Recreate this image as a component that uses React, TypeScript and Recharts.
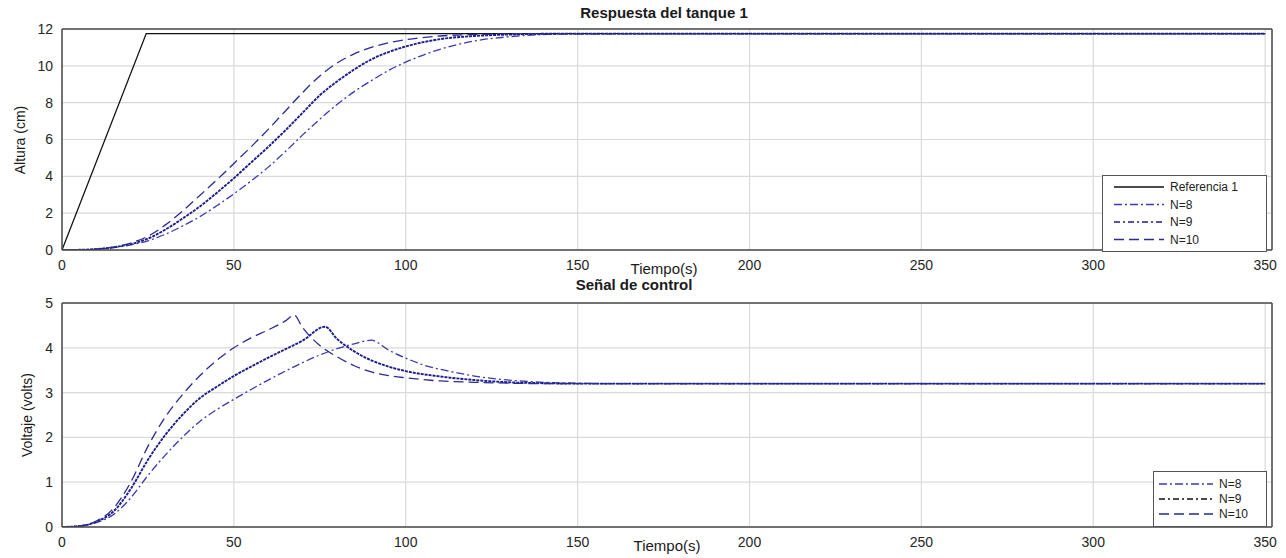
import { LineChart, Line, XAxis, YAxis, CartesianGrid, ReferenceLine } from 'recharts';

// axis ticks
const timeTicks = [0, 50, 100, 150, 200, 250, 300, 350];
const levelTicks = [0, 2, 4, 6, 8, 10, 12];
const voltTicks = [0, 1, 2, 3, 4, 5];

// tank 1 level (cm)
const refTime = [0, 24.5, 350];
const refLevel = [0, 11.75, 11.75];

const levelTime = [0, 5, 10, 15, 20, 25, 30, 35, 40, 45, 50, 55, 60, 65, 70, 75, 80, 85, 90, 95, 100, 110, 120, 130, 140, 150, 200, 250, 300, 350];
const levelN8 = [0, 0.01, 0.04, 0.13, 0.28, 0.5, 0.85, 1.3, 1.8, 2.4, 3.05, 3.75, 4.5, 5.35, 6.25, 7.1, 7.9, 8.6, 9.2, 9.75, 10.2, 10.9, 11.35, 11.58, 11.7, 11.74, 11.75, 11.75, 11.75, 11.75];
const levelN9 = [0, 0.01, 0.05, 0.15, 0.32, 0.62, 1.1, 1.7, 2.35, 3.1, 3.9, 4.75, 5.6, 6.5, 7.45, 8.4, 9.15, 9.8, 10.35, 10.75, 11.05, 11.45, 11.62, 11.7, 11.74, 11.75, 11.75, 11.75, 11.75, 11.75];
const levelN10 = [0, 0.01, 0.05, 0.16, 0.38, 0.75, 1.35, 2.1, 2.95, 3.8, 4.7, 5.6, 6.55, 7.55, 8.55, 9.45, 10.15, 10.65, 11.0, 11.25, 11.42, 11.62, 11.7, 11.74, 11.75, 11.75, 11.75, 11.75, 11.75, 11.75];

// control signal (volts)
const uTimeN8 = [0, 5, 10, 15, 20, 25, 30, 35, 40, 45, 50, 55, 60, 65, 70, 75, 80, 85, 90, 95, 100, 105, 110, 115, 120, 130, 140, 150, 160, 200, 250, 300, 350];
const uN8 = [0, 0.02, 0.1, 0.28, 0.65, 1.15, 1.6, 2.0, 2.35, 2.62, 2.85, 3.07, 3.28, 3.48, 3.67, 3.84, 3.98, 4.09, 4.17, 3.95, 3.77, 3.62, 3.52, 3.44, 3.37, 3.28, 3.23, 3.21, 3.2, 3.2, 3.2, 3.2, 3.2];

const uTimeN9 = [0, 5, 10, 15, 20, 25, 30, 35, 40, 45, 50, 55, 60, 65, 70, 76.5, 80, 85, 90, 95, 100, 110, 120, 130, 140, 150, 200, 250, 300, 350];
const uN9 = [0, 0.02, 0.12, 0.35, 0.85, 1.5, 2.05, 2.5, 2.87, 3.13, 3.37, 3.58, 3.78, 3.97, 4.16, 4.47, 4.2, 3.92, 3.72, 3.58, 3.48, 3.36, 3.28, 3.23, 3.21, 3.2, 3.2, 3.2, 3.2, 3.2];

const uTimeN10 = [0, 5, 10, 15, 20, 25, 30, 35, 40, 45, 50, 55, 60, 65, 67.5, 70, 75, 80, 85, 90, 95, 100, 110, 120, 130, 140, 150, 200, 250, 300, 350];
const uN10 = [0, 0.02, 0.13, 0.42, 1.0, 1.8, 2.45, 2.95, 3.37, 3.72, 4.0, 4.22, 4.4, 4.6, 4.73, 4.45, 4.05, 3.8, 3.6, 3.46, 3.38, 3.33, 3.26, 3.23, 3.21, 3.2, 3.2, 3.2, 3.2, 3.2, 3.2];

const zip = (t: number[], v: number[]) => t.map((x, i) => ({ t: x, v: v[i] }));

const FONT = '"Liberation Sans", Arial, sans-serif';
const FRAME = '#4a4a4a';
const GRID = '#dadada';

const styles = {
  ref: { stroke: '#111', dash: undefined, width: 1.3 },
  n8: { stroke: '#3a3ab0', dash: '8 3 2 3', width: 1.3 },
  n9: { stroke: '#1c1c8a', dash: '3 1', width: 1.9 },
  n10: { stroke: '#2a2a95', dash: '10 5', width: 1.3 },
};

const tickStyle = { fill: '#262626', fontSize: 14, fontFamily: FONT };

function Frame({ xMax, yMax }: { xMax: number; yMax: number }) {
  return (
    <>
      <ReferenceLine y={yMax} stroke={FRAME} strokeWidth={1.5} />
      <ReferenceLine x={xMax} stroke={FRAME} strokeWidth={1.5} />
    </>
  );
}

function LegendBox({ left, top, width, rows, rowTop, rowGap, sample }: {
  left: number; top: number; width: number;
  rows: { label: string; stroke: string; dash?: string; w: number; }[];
  rowTop: number; rowGap: number; sample: [number, number];
}) {
  const height = rowTop * 2 + rowGap * (rows.length - 1);
  return (
    <div style={{ position: 'absolute', left, top, width, height, border: '1px solid #555', background: '#fff', fontFamily: FONT, fontSize: 12, color: '#222' }}>
      <svg width={width} height={height} style={{ position: 'absolute', left: 0, top: 0 }}>
        {rows.map((r, i) => (
          <g key={r.label}>
            <line x1={sample[0]} x2={sample[1]} y1={rowTop + i * rowGap} y2={rowTop + i * rowGap} stroke={r.stroke} strokeDasharray={r.dash} strokeWidth={r.w} />
            <text x={sample[1] + 6} y={rowTop + i * rowGap + 4} fontSize={12} fontFamily={FONT} fill="#222">{r.label}</text>
          </g>
        ))}
      </svg>
    </div>
  );
}

const abs = (left: number, top: number, extra: React.CSSProperties = {}): React.CSSProperties => ({
  position: 'absolute', left, top, transform: 'translate(-50%, -50%)', whiteSpace: 'nowrap', fontFamily: FONT, color: '#1a1a1a', ...extra,
});

export default function App() {
  return (
    <div style={{ position: 'absolute', left: 0, top: 0, width: 1286, height: 558, background: '#fff', overflow: 'hidden' }}>
      {/* tank level */}
      <div style={{ position: 'absolute', left: 0, top: 0 }}>
        <LineChart width={1286} height={280} margin={{ top: 29, right: 14, bottom: 0, left: 22 }}>
          <CartesianGrid stroke={GRID} strokeWidth={1.2} />
          <XAxis dataKey="t" type="number" domain={[0, 352]} ticks={timeTicks} allowDataOverflow
            tickLine={false} tickMargin={4} height={30} axisLine={{ stroke: FRAME, strokeWidth: 1.5 }} tick={tickStyle} />
          <YAxis type="number" domain={[0, 12]} ticks={levelTicks} allowDataOverflow
            tickLine={false} tickMargin={3} width={40} axisLine={{ stroke: FRAME, strokeWidth: 1.5 }} tick={tickStyle} />
          {Frame({ xMax: 352, yMax: 12 })}
          <Line data={zip(refTime, refLevel)} dataKey="v" type="linear" dot={false} isAnimationActive={false}
            stroke={styles.ref.stroke} strokeWidth={styles.ref.width} />
          <Line data={zip(levelTime, levelN8)} dataKey="v" type="monotone" dot={false} isAnimationActive={false}
            stroke={styles.n8.stroke} strokeDasharray={styles.n8.dash} strokeWidth={styles.n8.width} />
          <Line data={zip(levelTime, levelN9)} dataKey="v" type="monotone" dot={false} isAnimationActive={false}
            stroke={styles.n9.stroke} strokeDasharray={styles.n9.dash} strokeWidth={styles.n9.width} />
          <Line data={zip(levelTime, levelN10)} dataKey="v" type="monotone" dot={false} isAnimationActive={false}
            stroke={styles.n10.stroke} strokeDasharray={styles.n10.dash} strokeWidth={styles.n10.width} />
        </LineChart>
      </div>

      {/* control signal */}
      <div style={{ position: 'absolute', left: 0, top: 280 }}>
        <LineChart width={1286} height={278} margin={{ top: 23, right: 14, bottom: 1, left: 22 }}>
          <CartesianGrid stroke={GRID} strokeWidth={1.2} />
          <XAxis dataKey="t" type="number" domain={[0, 352]} ticks={timeTicks} allowDataOverflow
            tickLine={false} tickMargin={4} height={30} axisLine={{ stroke: FRAME, strokeWidth: 1.5 }} tick={tickStyle} />
          <YAxis type="number" domain={[0, 5]} ticks={voltTicks} allowDataOverflow
            tickLine={false} tickMargin={3} width={40} axisLine={{ stroke: FRAME, strokeWidth: 1.5 }} tick={tickStyle} />
          {Frame({ xMax: 352, yMax: 5 })}
          <Line data={zip(uTimeN8, uN8)} dataKey="v" type="monotone" dot={false} isAnimationActive={false}
            stroke={styles.n8.stroke} strokeDasharray={styles.n8.dash} strokeWidth={styles.n8.width} />
          <Line data={zip(uTimeN9, uN9)} dataKey="v" type="monotone" dot={false} isAnimationActive={false}
            stroke={styles.n9.stroke} strokeDasharray={styles.n9.dash} strokeWidth={styles.n9.width} />
          <Line data={zip(uTimeN10, uN10)} dataKey="v" type="monotone" dot={false} isAnimationActive={false}
            stroke={styles.n10.stroke} strokeDasharray={styles.n10.dash} strokeWidth={styles.n10.width} />
        </LineChart>
      </div>

      {/* titles and axis labels */}
      <div style={abs(664, 12, { fontSize: 15, fontWeight: 'bold' })}>Respuesta del tanque 1</div>
      <div style={abs(634, 284, { fontSize: 15, fontWeight: 'bold' })}>Señal de control</div>
      <div style={abs(664, 268, { fontSize: 15 })}>Tiempo(s)</div>
      <div style={abs(667, 545, { fontSize: 15 })}>Tiempo(s)</div>
      <div style={abs(20, 140, { fontSize: 14, transform: 'translate(-50%, -50%) rotate(-90deg)' })}>Altura (cm)</div>
      <div style={abs(27, 415, { fontSize: 14, transform: 'translate(-50%, -50%) rotate(-90deg)' })}>Voltaje (volts)</div>

      <LegendBox left={1102} top={175} width={163} rowTop={11} rowGap={17.5} sample={[11, 61]}
        rows={[
          { label: 'Referencia 1', stroke: styles.ref.stroke, w: 1.3 },
          { label: 'N=8', stroke: styles.n8.stroke, dash: styles.n8.dash, w: 1.3 },
          { label: 'N=9', stroke: styles.n9.stroke, dash: '6 3 2 3', w: 1.6 },
          { label: 'N=10', stroke: styles.n10.stroke, dash: styles.n10.dash, w: 1.3 },
        ]} />
      <LegendBox left={1153} top={471} width={112} rowTop={12} rowGap={15} sample={[5, 59]}
        rows={[
          { label: 'N=8', stroke: styles.n8.stroke, dash: styles.n8.dash, w: 1.3 },
          { label: 'N=9', stroke: '#111', dash: '6 3 2 3', w: 1.4 },
          { label: 'N=10', stroke: styles.n10.stroke, dash: styles.n10.dash, w: 1.3 },
        ]} />
    </div>
  );
}
